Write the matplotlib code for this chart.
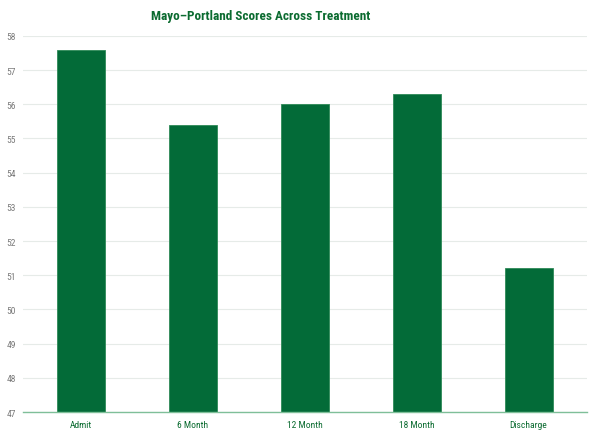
import matplotlib
matplotlib.use("Agg")
import matplotlib.pyplot as plt

# data
categories = ["Admit", "6 Month", "12 Month", "18 Month", "Discharge"]
scores = [57.6, 55.4, 56.0, 56.3, 51.2]
y_ticks = list(range(47, 59))

bar_color = "#036b38"
title_color = "#0b6b30"
font = ["Roboto Condensed", "DejaVu Sans"]

fig = plt.figure(figsize=(6, 4.39), dpi=100)
ax = fig.add_axes([0.038, 0.059, 0.940, 0.857])

x = range(len(categories))
ax.bar(x, scores, width=0.43, color=bar_color, edgecolor="#2e8a57", linewidth=0.6, zorder=3)

ax.set_ylim(47, 58)
ax.set_xlim(-0.52, len(categories) - 0.48)
ax.set_yticks(y_ticks)
ax.set_yticklabels([str(t) for t in y_ticks], fontsize=6.8, color="#7a7a7a", family=font)
ax.set_xticks(list(x))
ax.set_xticklabels(categories, fontsize=6.8, color=title_color, family=font)
ax.tick_params(axis="both", length=0, pad=6)
ax.tick_params(axis="y", pad=5)

ax.grid(axis="y", color="#e6ebe8", linewidth=0.8, zorder=0)
for side in ["top", "right", "left"]:
    ax.spines[side].set_visible(False)
ax.spines["bottom"].set_color("#7fbf99")
ax.spines["bottom"].set_linewidth(1.0)
ax.spines["bottom"].set_zorder(4)

fig.text(0.435, 0.962, "Mayo\u2013Portland Scores Across Treatment", ha="center", va="center",
         fontsize=9.5, fontweight="bold", color=title_color, family=font)

fig.savefig("out.png", dpi=100)
